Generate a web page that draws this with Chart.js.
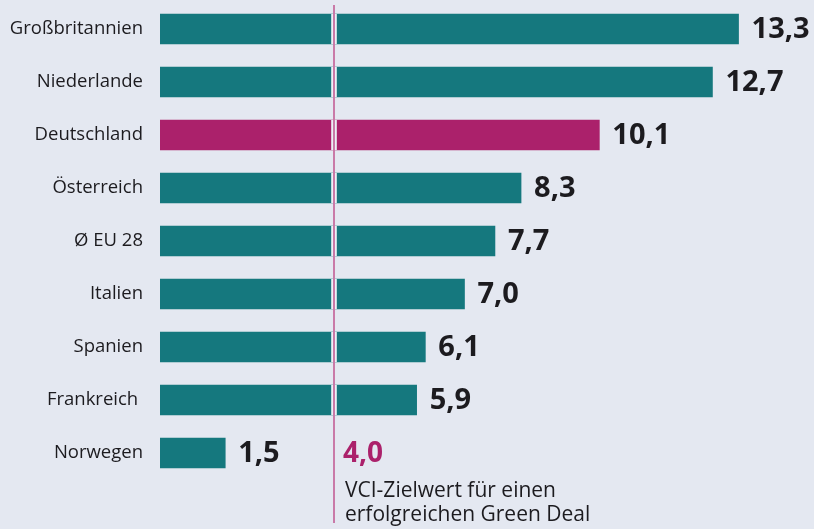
<!DOCTYPE html>
<html>
<head>
<meta charset="utf-8">
<script src="https://cdn.jsdelivr.net/npm/chart.js@4/dist/chart.umd.min.js"></script>
<style>
  html, body { margin: 0; padding: 0; background: #e4e8f1; }
  #wrap { width: 814px; height: 529px; position: relative; }
</style>
</head>
<body>
<div id="wrap"><canvas id="c"></canvas></div>
<script>
const categories = ['Großbritannien', 'Niederlande', 'Deutschland', 'Österreich', 'Ø EU 28', 'Italien', 'Spanien', 'Frankreich ', 'Norwegen'];
const values = [13.3, 12.7, 10.1, 8.3, 7.7, 7.0, 6.1, 5.9, 1.5];
const highlight = 'Deutschland';
const targetValue = 4.0;
const targetLabel = '4,0';
const targetText = ['VCI-Zielwert für einen', 'erfolgreichen Green Deal'];

const BG = '#e4e8f1';
const TEAL = '#15787e';
const MAGENTA = '#ab216b';
const LINE = '#c97aa8';
const FONT = '"Open Sans", "Noto Sans", sans-serif';

const fmt = v => v.toFixed(1).replace('.', ',');

const bgPlugin = {
  id: 'bg',
  beforeDraw(chart) {
    const ctx = chart.ctx;
    ctx.save();
    ctx.fillStyle = BG;
    ctx.fillRect(0, 0, chart.width, chart.height);
    ctx.restore();
  }
};

const overlayPlugin = {
  id: 'overlay',
  afterDatasetsDraw(chart) {
    const ctx = chart.ctx;
    const xs = chart.scales.x;
    const meta = chart.getDatasetMeta(0);
    ctx.save();
    // value labels
    ctx.font = 'bold 29px ' + FONT;
    ctx.fillStyle = '#1c1b1f';
    ctx.textBaseline = 'middle';
    ctx.textAlign = 'left';
    meta.data.forEach((bar, i) => {
      ctx.fillText(fmt(values[i]), bar.x + 13, bar.y + 1);
    });
    // target line with gap
    const tx = xs.getPixelForValue(targetValue);
    ctx.fillStyle = '#edf0f6';
    meta.data.forEach(bar => {
      if (bar.x > tx) ctx.fillRect(tx - 2.8, bar.y - bar.height / 2, 5.6, bar.height);
    });
    ctx.strokeStyle = LINE;
    ctx.lineWidth = 2;
    ctx.beginPath();
    ctx.moveTo(tx, 5);
    ctx.lineTo(tx, 523);
    ctx.stroke();
    // target annotation
    ctx.textBaseline = 'alphabetic';
    ctx.fillStyle = MAGENTA;
    ctx.font = 'bold 28px ' + FONT;
    ctx.fillText(targetLabel, tx + 9, 462);
    ctx.fillStyle = '#1c1b1f';
    ctx.font = '21px ' + FONT;
    ctx.fillText(targetText[0], tx + 11, 497);
    ctx.fillText(targetText[1], tx + 11, 521);
    ctx.restore();
  }
};

new Chart(document.getElementById('c'), {
  type: 'bar',
  data: {
    labels: categories,
    datasets: [{
      data: values,
      backgroundColor: categories.map(c => c === highlight ? MAGENTA : TEAL),
      barThickness: 30,
      borderWidth: 0
    }]
  },
  options: {
    indexAxis: 'y',
    responsive: true,
    maintainAspectRatio: false,
    animation: false,
    layout: { padding: { top: 2.5, bottom: 49.5, left: 0, right: 1.5 } },
    plugins: { legend: { display: false }, tooltip: { enabled: false } },
    scales: {
      x: { display: false, min: 0, max: 15 },
      y: {
        grid: { display: false, drawTicks: false },
        border: { display: false },
        afterFit(scale) {
          scale.width = 160;
          scale.paddingTop = 0;
          scale.paddingBottom = 0;
        },
        ticks: {
          padding: 17,
          color: '#1c1b1f',
          font: { family: FONT, size: 18.5 }
        }
      }
    }
  },
  plugins: [bgPlugin, overlayPlugin]
});
</script>
</body>
</html>
